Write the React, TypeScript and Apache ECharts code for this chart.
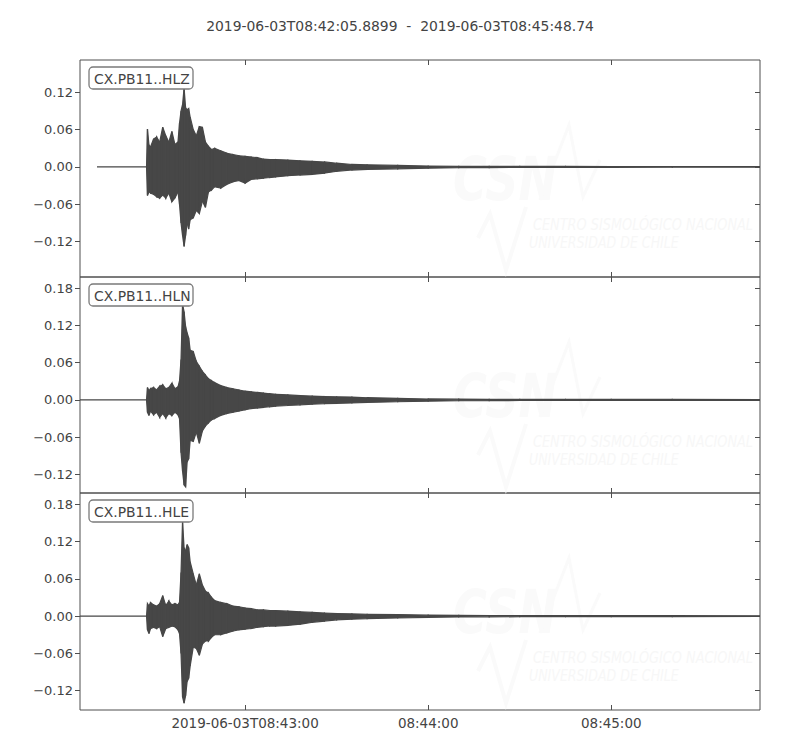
import React, { useEffect, useRef } from 'react';
import * as echarts from 'echarts';

// ---------- data (time in seconds after 2019-06-03T08:42:00) ----------
const TITLE = '2019-06-03T08:42:05.8899  -  2019-06-03T08:45:48.74';
const CHANNELS = ['CX.PB11..HLZ', 'CX.PB11..HLN', 'CX.PB11..HLE'];
const T_START = 5.8899;
const T_END = 228.74;
const TRACE_START = [11.46, 5.8899, 5.8899];
const X_TICKS = [60, 120, 180];
const X_TICK_LABELS = ['2019-06-03T08:43:00', '08:44:00', '08:45:00'];
const Y_TICKS_Z = [-0.12, -0.06, 0, 0.06, 0.12];
const Y_TICKS_NE = [-0.12, -0.06, 0, 0.06, 0.12, 0.18];
const Y_MIN = [-0.177, -0.15, -0.151];
const Y_MAX = [0.172, 0.198, 0.198];

// envelope sample times
const TIMES = [
  27.7, 28, 28.5, 29, 30, 31, 32, 33, 34, 35, 36, 37, 38, 38.5, 39, 39.5, 40, 40.5, 41, 41.5,
  42, 43, 44, 45, 46, 47, 48, 49, 50, 52, 54, 56, 58, 60, 62, 64, 66, 68, 70, 74,
  78, 82, 86, 90, 95, 100, 110, 120, 130, 140, 150, 165, 180, 200, 228.74,
];

// HLZ (vertical) upper / lower envelope
const HLZ_HI = [
  0, 0.061, 0.035, 0.032, 0.045, 0.048, 0.04, 0.064, 0.05, 0.04, 0.057, 0.036, 0.04, 0.07, 0.09, 0.1, 0.127, 0.095, 0.092, 0.094,
  0.08, 0.06, 0.05, 0.065, 0.064, 0.04, 0.033, 0.028, 0.03, 0.026, 0.022, 0.02, 0.018, 0.017, 0.016, 0.015, 0.0125, 0.012, 0.012, 0.011,
  0.01, 0.009, 0.008, 0.006, 0.004, 0.0035, 0.0025, 0.0015, 0.001, 0.001, 0.0008, 0.0008, 0.0006, 0.0005, 0.0005,
];
const HLZ_LO = [
  0, -0.046, -0.04, -0.042, -0.044, -0.048, -0.05, -0.045, -0.05, -0.042, -0.056, -0.05, -0.04, -0.06, -0.09, -0.11, -0.128, -0.11, -0.09, -0.1,
  -0.085, -0.082, -0.07, -0.075, -0.055, -0.065, -0.04, -0.037, -0.032, -0.034, -0.028, -0.024, -0.022, -0.026, -0.02, -0.019, -0.018, -0.017, -0.016, -0.014,
  -0.013, -0.012, -0.01, -0.007, -0.005, -0.004, -0.003, -0.002, -0.0012, -0.001, -0.0008, -0.0008, -0.0006, -0.0005, -0.0005,
];

// HLN (north) upper / lower envelope
const HLN_HI = [
  0, 0.02, 0.015, 0.018, 0.02, 0.016, 0.022, 0.024, 0.018, 0.02, 0.027, 0.018, 0.021, 0.03, 0.065, 0.154, 0.142, 0.118, 0.108, 0.1,
  0.08, 0.078, 0.062, 0.054, 0.046, 0.04, 0.034, 0.031, 0.028, 0.023, 0.02, 0.018, 0.016, 0.014, 0.013, 0.012, 0.011, 0.01, 0.009, 0.008,
  0.007, 0.006, 0.0055, 0.005, 0.0045, 0.0035, 0.0025, 0.0015, 0.0012, 0.001, 0.001, 0.0009, 0.0008, 0.0007, 0.0006,
];
const HLN_LO = [
  0, -0.02, -0.025, -0.018, -0.024, -0.02, -0.028, -0.022, -0.029, -0.022, -0.025, -0.02, -0.024, -0.03, -0.085, -0.115, -0.137, -0.14, -0.1, -0.095,
  -0.065, -0.067, -0.052, -0.07, -0.05, -0.042, -0.037, -0.032, -0.03, -0.025, -0.022, -0.02, -0.018, -0.016, -0.014, -0.013, -0.012, -0.011, -0.01, -0.009,
  -0.008, -0.007, -0.006, -0.0055, -0.005, -0.004, -0.003, -0.002, -0.0014, -0.0012, -0.001, -0.001, -0.0009, -0.0008, -0.0007,
];

// HLE (east) upper / lower envelope
const HLE_HI = [
  0, 0.02, 0.016, 0.022, 0.018, 0.016, 0.02, 0.033, 0.017, 0.024, 0.018, 0.02, 0.018, 0.022, 0.07, 0.152, 0.11, 0.105, 0.115, 0.11,
  0.087, 0.068, 0.05, 0.068, 0.05, 0.04, 0.037, 0.03, 0.025, 0.022, 0.02, 0.016, 0.015, 0.013, 0.012, 0.01, 0.01, 0.009, 0.009, 0.008,
  0.007, 0.006, 0.005, 0.004, 0.0035, 0.003, 0.0025, 0.0015, 0.0012, 0.001, 0.001, 0.0009, 0.0008, 0.0007, 0.0006,
];
const HLE_LO = [
  0, -0.022, -0.028, -0.02, -0.018, -0.02, -0.017, -0.033, -0.02, -0.018, -0.016, -0.017, -0.022, -0.028, -0.06, -0.13, -0.14, -0.128, -0.105, -0.1,
  -0.08, -0.05, -0.052, -0.063, -0.045, -0.04, -0.04, -0.034, -0.03, -0.03, -0.027, -0.024, -0.022, -0.021, -0.02, -0.018, -0.017, -0.016, -0.016, -0.015,
  -0.013, -0.01, -0.008, -0.006, -0.005, -0.004, -0.003, -0.002, -0.0014, -0.0012, -0.001, -0.0009, -0.0008, -0.0007, -0.0006,
];

// watermark texts
const WM_LOGO = 'CSN';
const WM_LINE1 = 'CENTRO SISMOLÓGICO NACIONAL';
const WM_LINE2 = 'UNIVERSIDAD DE CHILE';

// ---------- layout / style ----------
const GRID_LEFT = 80;
const GRID_WIDTH = 680;
const GRID_TOPS = [60, 277, 493];
const GRID_HEIGHTS = [217, 216, 217];
const FONT = '"DejaVu Sans", sans-serif';
const INK = '#444444';
const FRAME = '#4f4f4f';
const TRACE = '#474747';
const WM_LOGO_FONT = 'italic bold 60px "DejaVu Sans", sans-serif';
const WM_TEXT_FONT = 'italic 16px "DejaVu Sans", sans-serif';
const WM_LOGO_COLOR = '#fafafa';
const WM_TEXT_COLOR = '#f7f7f7';

function textWidth(text: string, font: string): number {
  const c = document.createElement('canvas').getContext('2d');
  if (!c) return text.length * 10;
  c.font = font;
  return c.measureText(text).width;
}

function fmtY(v: number): string {
  const s = Math.abs(v).toFixed(2);
  return v < -1e-9 ? '\u2212' + s : s;
}
function fmtX(v: number): string {
  const k = X_TICKS.findIndex((t) => Math.abs(t - v) < 1e-6);
  return k >= 0 ? X_TICK_LABELS[k] : '';
}

function buildSegments(start: number, hi: number[], lo: number[]) {
  const pts: number[][] = [[start, 0, 0]];
  TIMES.forEach((t, i) => pts.push([t, hi[i], lo[i]]));
  const segs: number[][] = [];
  for (let i = 0; i < pts.length - 1; i++) {
    segs.push([pts[i][0], pts[i][1], pts[i][2], pts[i + 1][0], pts[i + 1][1], pts[i + 1][2]]);
  }
  return segs;
}

function renderItem(_params: any, api: any) {
  const a = api.coord([api.value(0), api.value(1)]);
  const b = api.coord([api.value(3), api.value(4)]);
  const c = api.coord([api.value(3), api.value(5)]);
  const d = api.coord([api.value(0), api.value(2)]);
  return {
    type: 'polygon',
    shape: { points: [a, b, c, d] },
    style: { fill: TRACE, stroke: TRACE, lineWidth: 1.2 },
  };
}

function buildOption() {
  const traces = [
    { hi: HLZ_HI, lo: HLZ_LO },
    { hi: HLN_HI, lo: HLN_LO },
    { hi: HLE_HI, lo: HLE_LO },
  ];
  const logoScale = 104 / textWidth(WM_LOGO, WM_LOGO_FONT);
  const line1Scale = 220 / textWidth(WM_LINE1, WM_TEXT_FONT);
  const line2Scale = 150 / textWidth(WM_LINE2, WM_TEXT_FONT);

  const grid: any[] = [];
  const xAxis: any[] = [];
  const yAxis: any[] = [];
  const series: any[] = [];
  const graphic: any[] = [];

  GRID_TOPS.forEach((top, i) => {
    grid.push({
      left: GRID_LEFT,
      top,
      width: GRID_WIDTH,
      height: GRID_HEIGHTS[i],
      show: true,
      borderColor: FRAME,
      borderWidth: 1,
      backgroundColor: 'rgba(0,0,0,0)',
    });
    ['bottom', 'top'].forEach((pos) => {
      xAxis.push({
        type: 'value',
        gridIndex: i,
        position: pos,
        min: T_START,
        max: T_END,
        axisLine: { show: false, onZero: false },
        axisTick: {
          show: true,
          inside: true,
          length: 5,
          customValues: X_TICKS,
          lineStyle: { color: FRAME, width: 1 },
        },
        axisLabel: {
          show: pos === 'bottom' && i === 2,
          customValues: X_TICKS,
          formatter: fmtX,
          color: INK,
          fontSize: 13.5,
          fontFamily: FONT,
          margin: 6,
        },
        splitLine: { show: false },
      });
    });
    const yt = i === 0 ? Y_TICKS_Z : Y_TICKS_NE;
    ['left', 'right'].forEach((pos) => {
      yAxis.push({
        type: 'value',
        gridIndex: i,
        position: pos,
        min: Y_MIN[i],
        max: Y_MAX[i],
        axisLine: { show: false, onZero: false },
        axisTick: {
          show: true,
          inside: pos === 'right',
          length: 5,
          customValues: yt,
          lineStyle: { color: FRAME, width: 1 },
        },
        axisLabel: {
          show: pos === 'left',
          customValues: yt,
          formatter: fmtY,
          color: INK,
          fontSize: 13,
          fontFamily: FONT,
          margin: 7,
        },
        splitLine: { show: false },
      });
    });
    series.push({
      type: 'custom',
      name: CHANNELS[i],
      xAxisIndex: 2 * i,
      yAxisIndex: 2 * i,
      clip: true,
      silent: true,
      z: 5,
      renderItem,
      encode: { x: [0, 3], y: [1, 2, 4, 5] },
      data: buildSegments(TRACE_START[i], traces[i].hi, traces[i].lo),
    });

    // faint CSN watermark
    const dy = top - 60;
    graphic.push({
      type: 'text',
      z: 1,
      silent: true,
      x: 453,
      y: 179 + dy,
      scaleX: logoScale,
      style: { text: WM_LOGO, font: WM_LOGO_FONT, fill: WM_LOGO_COLOR, verticalAlign: 'middle' },
    });
    graphic.push({
      type: 'polyline',
      z: 1,
      silent: true,
      shape: { points: [[540, 200 + dy], [569, 125 + dy], [583, 197 + dy], [600, 160 + dy]] },
      style: { stroke: WM_LOGO_COLOR, lineWidth: 3, fill: null },
    });
    graphic.push({
      type: 'polyline',
      z: 1,
      silent: true,
      shape: { points: [[478, 238 + dy], [490, 214 + dy], [506, 270 + dy], [526, 207 + dy]] },
      style: { stroke: WM_LOGO_COLOR, lineWidth: 4, fill: null },
    });
    graphic.push({
      type: 'text',
      z: 1,
      silent: true,
      x: 533,
      y: 224 + dy,
      scaleX: line1Scale,
      style: { text: WM_LINE1, font: WM_TEXT_FONT, fill: WM_TEXT_COLOR, verticalAlign: 'middle' },
    });
    graphic.push({
      type: 'text',
      z: 1,
      silent: true,
      x: 529,
      y: 242 + dy,
      scaleX: line2Scale,
      style: { text: WM_LINE2, font: WM_TEXT_FONT, fill: WM_TEXT_COLOR, verticalAlign: 'middle' },
    });

    // channel label box
    graphic.push({
      type: 'group',
      z: 100,
      x: 89,
      y: top + 7,
      children: [
        {
          type: 'rect',
          z: 100,
          shape: { x: 0, y: 0, width: 104, height: 22, r: 4 },
          style: { fill: '#ffffff', stroke: '#7a7a7a', lineWidth: 1.3 },
        },
        {
          type: 'text',
          z: 101,
          x: 5,
          y: 11.5,
          style: {
            text: CHANNELS[i],
            fill: INK,
            font: '13.9px "DejaVu Sans", sans-serif',
            verticalAlign: 'middle',
          },
        },
      ],
    });
  });

  return {
    animation: false,
    backgroundColor: '#ffffff',
    title: {
      text: TITLE,
      left: 'center',
      top: 14,
      textStyle: { fontSize: 13.9, fontWeight: 'normal', color: INK, fontFamily: FONT },
    },
    grid,
    xAxis,
    yAxis,
    series,
    graphic,
  };
}

export default function App() {
  const ref = useRef<HTMLDivElement>(null);
  useEffect(() => {
    if (!ref.current) return;
    const chart = echarts.init(ref.current, undefined, { renderer: 'svg' });
    chart.setOption(buildOption() as any);
    return () => chart.dispose();
  }, []);
  return (
    <div
      ref={ref}
      style={{ position: 'absolute', left: 0, top: 0, width: 800, height: 750, background: '#fff' }}
    />
  );
}
